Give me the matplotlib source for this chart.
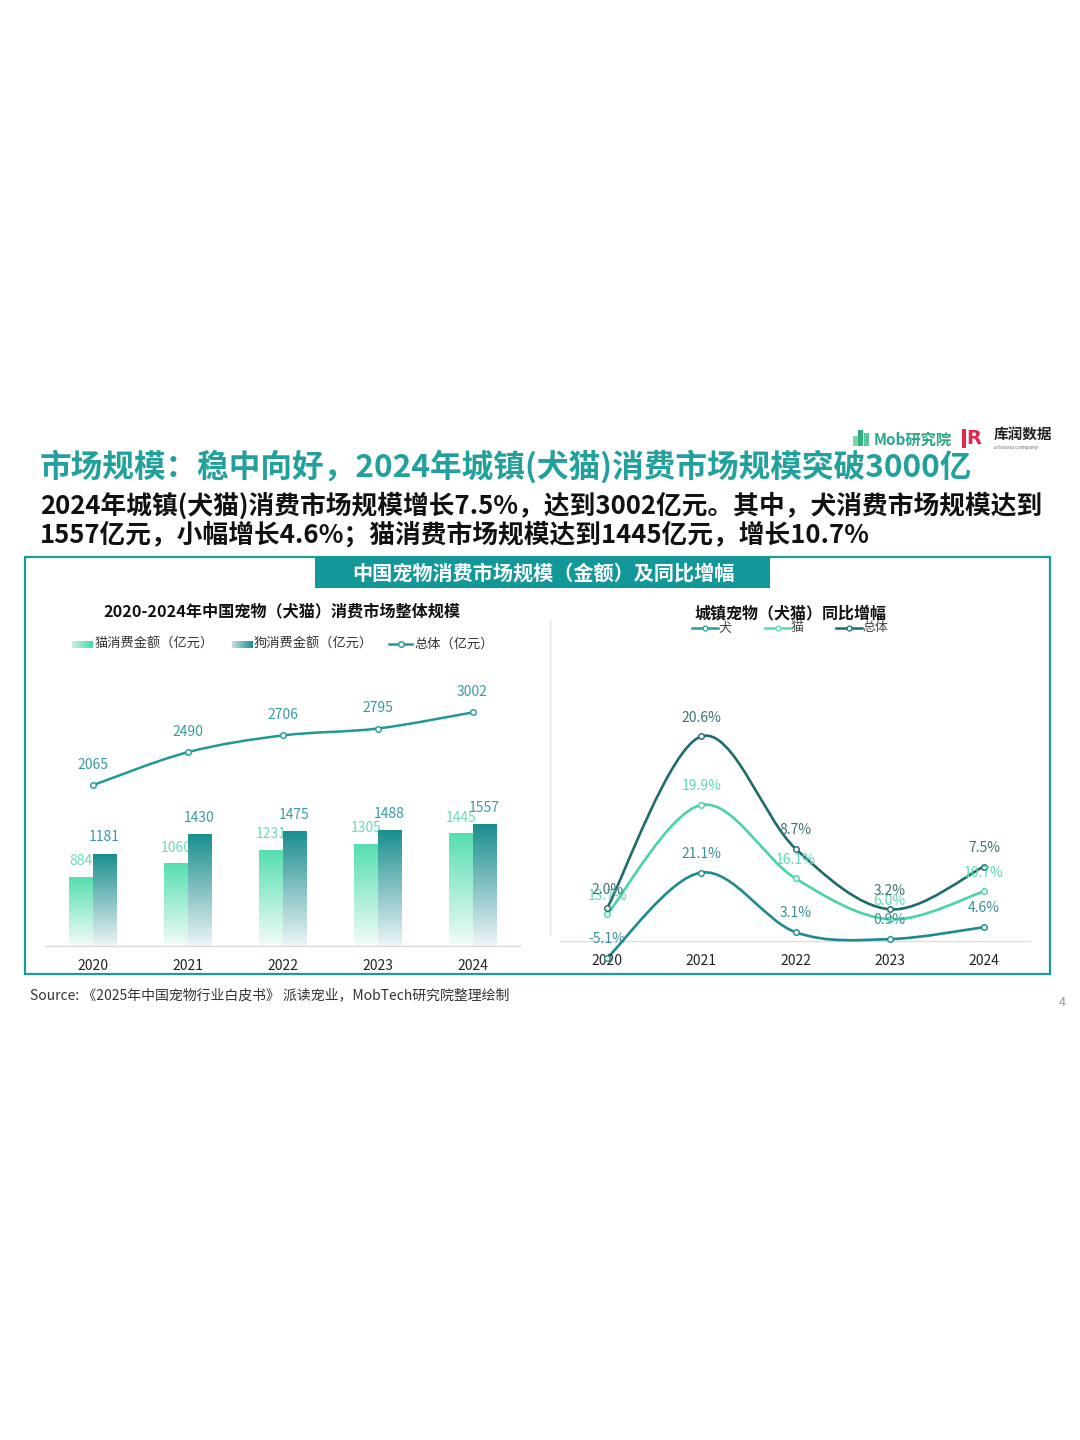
import numpy as np
import matplotlib
matplotlib.use("Agg")
import matplotlib.pyplot as plt
from matplotlib.path import Path
from matplotlib.patches import PathPatch, Rectangle
from matplotlib.colors import to_rgb

plt.rcParams["font.family"] = ["Noto Sans CJK SC", "DejaVu Sans"]

W, H = 1080, 1440

years = ["2020", "2021", "2022", "2023", "2024"]
cat_amount = [884, 1060, 1231, 1305, 1445]
dog_amount = [1181, 1430, 1475, 1488, 1557]
total_amount = [2065, 2490, 2706, 2795, 3002]

# yoy curves as they are drawn in the picture, plus the labels printed on them
total_yoy = [3.3, 20.6, 9.3, 3.2, 7.5]
cat_yoy = [2.7, 13.7, 6.3, 2.2, 5.0]
dog_yoy = [-1.7, 6.9, 0.9, 0.2, 1.4]
total_yoy_labels = ["2.0%", "20.6%", "8.7%", "3.2%", "7.5%"]
cat_yoy_labels = ["13.7%", "19.9%", "16.1%", "6.0%", "10.7%"]
dog_yoy_labels = ["-5.1%", "21.1%", "3.1%", "0.9%", "4.6%"]

TEAL = "#1a9c9a"
CAT = "#46d9a8"
DOG = "#1a8e8f"
TOTAL_DARK = "#1e6b6e"


def smooth_path(xs, ys):
    # catmull-rom style bezier through the points (like excel smoothed lines)
    pts = np.column_stack([xs, ys]).astype(float)
    ext = np.vstack([pts[0], pts, pts[-1]])
    verts = [pts[0]]
    codes = [Path.MOVETO]
    for i in range(len(pts) - 1):
        p0, p1, p2, p3 = ext[i], ext[i + 1], ext[i + 2], ext[i + 3]
        verts += [p1 + (p2 - p0) / 6, p2 - (p3 - p1) / 6, p2]
        codes += [Path.CURVE4] * 3
    return Path(verts, codes)


def smooth_line(ax, xs, ys, color, lw=1.9, z=3):
    ax.add_patch(PathPatch(smooth_path(xs, ys), fill=False, edgecolor=color,
                           lw=lw, zorder=z, capstyle="round"))
    ax.plot(xs, ys, linestyle="none", marker="o", markersize=4,
            markerfacecolor="white", markeredgecolor=color,
            markeredgewidth=1, zorder=z + 0.5)


def gradient_bars(ax, bars, color, bottom_color, z):
    top = np.array(to_rgb(color))
    bot = np.array(to_rgb(bottom_color))
    t = np.linspace(0, 1, 256)[:, None]
    img = (bot + (top - bot) * t)[:, None, :]
    for b in bars:
        ax.imshow(img, extent=(b.get_x(), b.get_x() + b.get_width(), 0, b.get_height()),
                  origin="lower", aspect="auto", zorder=z, interpolation="bilinear")


fig = plt.figure(figsize=(W / 100, H / 100), dpi=100)
fig.patch.set_facecolor("white")

# background / decoration layer in pixel coordinates
bg = fig.add_axes([0, 0, 1, 1])
bg.set_xlim(0, W)
bg.set_ylim(H, 0)
bg.axis("off")

# logos
for i, (x0, hh) in enumerate([(853, 10), (858, 16), (864, 13)]):
    bg.add_patch(Rectangle((x0, 446 - hh), 5, hh, color=["#7fd3a8", "#2bb37a", "#5cc79a"][i], lw=0))
bg.text(874, 440, "Mob研究院", fontsize=11, fontstyle="italic", fontweight="bold",
        color="#2aa58a", va="center", ha="left")
bg.add_patch(Rectangle((962, 429), 3.5, 19, color="#e2264d", lw=0))
bg.text(966, 438.5, "R", fontsize=14, fontweight="bold", color="#e2264d", va="center", ha="left",
        family=["DejaVu Sans"])
bg.text(994, 434, "库润数据", fontsize=10.5, fontweight="bold", color="#222222", va="center", ha="left")
bg.text(994, 447, "a toluna company", fontsize=3.8, color="#666666", va="center", ha="left")

# titles
bg.text(40, 467, "市场规模：稳中向好，2024年城镇(犬猫)消费市场规模突破3000亿",
        fontsize=22.8, fontweight="bold", color="#22a09c", va="center", ha="left")
bg.text(40, 506, "2024年城镇(犬猫)消费市场规模增长7.5%，达到3002亿元。其中，犬消费市场规模达到",
        fontsize=18.5, fontweight="bold", color="#111111", va="center", ha="left")
bg.text(40, 535, "1557亿元，小幅增长4.6%；猫消费市场规模达到1445亿元，增长10.7%",
        fontsize=18.5, fontweight="bold", color="#111111", va="center", ha="left")

# frame and header tab
bg.add_patch(Rectangle((25, 557), 1025, 417, fill=False, edgecolor=TEAL, lw=1.6))
bg.add_patch(Rectangle((315, 557), 455, 31, color="#13989a", lw=0))
bg.text(543, 573, "中国宠物消费市场规模（金额）及同比增幅", fontsize=14.5, fontweight="bold",
        color="white", va="center", ha="center")

# separator between the two charts
bg.plot([550, 550], [620, 935], color="#e3e3e3", lw=1)

# left chart title + legend
bg.text(282, 611, "2020-2024年中国宠物（犬猫）消费市场整体规模", fontsize=11.6,
        fontweight="bold", color="#111111", va="center", ha="center")
tgrad = np.linspace(0, 1, 64)[None, :, None]
for x0, c, light in [(72, CAT, "#c8f3e4"), (232, DOG, "#c6e0e2")]:
    img = np.array(to_rgb(light)) + (np.array(to_rgb(c)) - np.array(to_rgb(light))) * tgrad
    bg.imshow(img, extent=(x0, x0 + 21, 648, 641), aspect="auto", interpolation="bilinear")
bg.text(95, 644, "猫消费金额（亿元）", fontsize=9.5, color="#333333", va="center", ha="left")
bg.text(254, 644, "狗消费金额（亿元）", fontsize=9.5, color="#333333", va="center", ha="left")
bg.plot([389, 412], [644, 644], color="#1f9996", lw=1.8)
bg.plot([400.5], [644], marker="o", markersize=4, markerfacecolor="white",
        markeredgecolor="#1f9996", markeredgewidth=1)
bg.text(414, 644, "总体（亿元）", fontsize=9.5, color="#333333", va="center", ha="left")

# right chart title + legend
bg.text(791, 613, "城镇宠物（犬猫）同比增幅", fontsize=11.5, fontweight="bold",
        color="#111111", va="center", ha="center")
for x0, c, name in [(692, "#2a9d9a", "犬"), (765, "#5fd9b0", "猫"), (836, TOTAL_DARK, "总体")]:
    bg.plot([x0, x0 + 26], [628, 628], color=c, lw=1.8)
    bg.plot([x0 + 13], [628], marker="o", markersize=3.5, markerfacecolor="white",
            markeredgecolor=c, markeredgewidth=0.9)
    bg.text(x0 + 26, 628, name, fontsize=9.3, color="#444444", va="center", ha="left")
bg.set_xlim(0, W)
bg.set_ylim(H, 0)

# source and page number
bg.text(30, 995, "Source: 《2025年中国宠物行业白皮书》 派读宠业，MobTech研究院整理绘制",
        fontsize=10, color="#333333", va="center", ha="left")
bg.text(1062, 1002, "4", fontsize=9, color="#999999", va="center", ha="center")

# ---------------- left chart ----------------
px_per_unit = 0.0778
ax1 = fig.add_axes([45 / W, 1 - 946 / H, 475 / W, (946 - 680) / H])
ax1.patch.set_visible(False)
x = np.arange(len(years))
bw = 0.243
cat_bars = ax1.bar(x - bw / 2, cat_amount, bw, color="none", zorder=2)
dog_bars = ax1.bar(x + bw / 2, dog_amount, bw, color="none", zorder=4)
gradient_bars(ax1, cat_bars, "#55deb0", "#f4fcf9", 2)
gradient_bars(ax1, dog_bars, DOG, "#eef4f6", 4)
for xi, v in zip(x, cat_amount):
    ax1.annotate(str(v), (xi - bw / 2, v), xytext=(0, 11.5), textcoords="offset points",
                 ha="center", va="center", fontsize=10, color="#6cdcb8", zorder=3)
for xi, v in zip(x, dog_amount):
    ax1.annotate(str(v), (xi + bw / 2, v), xytext=(0, 12), textcoords="offset points",
                 ha="center", va="center", fontsize=10, color="#3b9c9e", zorder=5)
smooth_line(ax1, x, total_amount, "#1f9996", lw=1.8, z=6)
for xi, v in zip(x, total_amount):
    ax1.annotate(str(v), (xi, v), xytext=(0, 14.5), textcoords="offset points",
                 ha="center", va="center", fontsize=10, color="#3a9b9d", zorder=7)
ax1.set_xlim(-0.5, 4.5)
ax1.set_ylim(0, (946 - 680) / px_per_unit)
ax1.set_xticks(x)
ax1.set_xticklabels(years, fontsize=10, color="#222222")
ax1.tick_params(axis="x", length=0, pad=9)
ax1.set_yticks([])
for s in ["top", "right", "left"]:
    ax1.spines[s].set_visible(False)
ax1.spines["bottom"].set_color("#d9d9d9")
ax1.spines["bottom"].set_linewidth(1)

# ---------------- right chart ----------------
px_per_pct = 9.94
ax2 = fig.add_axes([560 / W, 1 - 961 / H, 471 / W, (961 - 650) / H])
ax2.patch.set_visible(False)
ax2.set_xlim(-0.5, 4.5)
ax2.set_ylim(-2, -2 + (961 - 650) / px_per_pct)
ax2.axis("off")
ax2.axhline(0, color="#dcdcdc", lw=1, zorder=1)

smooth_line(ax2, x, dog_yoy, "#1d8a8d", z=3)
smooth_line(ax2, x, cat_yoy, "#47d4a6", z=4)
smooth_line(ax2, x, total_yoy, TOTAL_DARK, z=5)
for vals, labels, col in [(dog_yoy, dog_yoy_labels, "#3a9096"),
                          (cat_yoy, cat_yoy_labels, "#5fd9b4"),
                          (total_yoy, total_yoy_labels, "#3d7376")]:
    for xi, v, lab in zip(x, vals, labels):
        ax2.annotate(lab, (xi, v), xytext=(0, 13.5), textcoords="offset points",
                     ha="center", va="center", fontsize=10, color=col, zorder=8)
for xi, yr in zip(x, years):
    ax2.text(xi, 0, yr, transform=ax2.get_xaxis_transform(), ha="center", va="center",
             fontsize=10, color="#222222")

fig.savefig("out.png", dpi=100, facecolor="white")
